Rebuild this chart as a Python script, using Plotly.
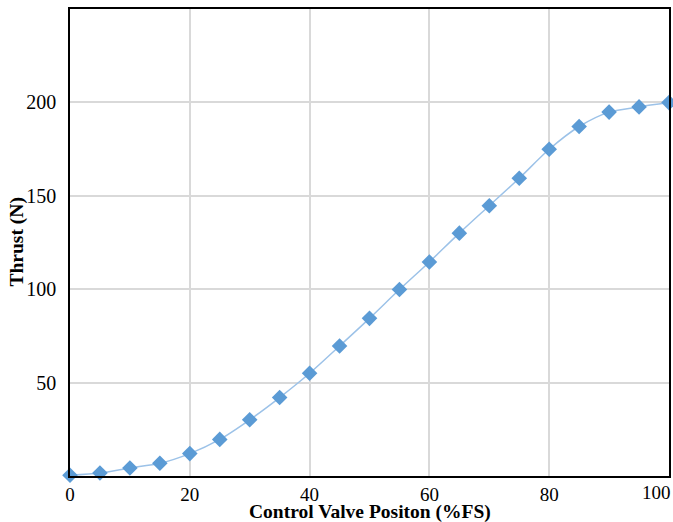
import plotly.graph_objects as go

valve_position = [0, 5, 10, 15, 20, 25, 30, 35, 40, 45, 50, 55, 60, 65, 70, 75, 80, 85, 90, 95, 100]
thrust = [0.4, 1.6, 4.3, 6.8, 12.0, 19.6, 30.1, 42.0, 55.0, 69.6, 84.4, 99.8, 114.6, 130.0, 144.7, 159.4, 174.9, 187.1, 194.8, 197.6, 199.9]

x_ticks = [0, 20, 40, 60, 80, 100]
y_ticks = [50, 100, 150, 200]

font_family = "Liberation Serif, Times New Roman, serif"

fig = go.Figure()
fig.add_trace(go.Scatter(
    x=valve_position, y=thrust,
    mode="lines+markers",
    line=dict(color="#9cc2e8", width=1.5, shape="spline", smoothing=0.8),
    marker=dict(symbol="diamond", size=12, color="#5b9bd5", line=dict(width=0)),
    cliponaxis=False,
    showlegend=False,
))

# last x tick label is drawn as an annotation so it stays inside the page (as in the original)
x_ticktext = [str(v) for v in x_ticks[:-1]] + [""]

fig.update_layout(
    width=673, height=522,
    margin=dict(l=70, r=4, t=9, b=46, autoexpand=False),
    paper_bgcolor="white", plot_bgcolor="white",
    font=dict(family=font_family, size=19, color="black"),
    xaxis=dict(
        range=[0, 100], tickvals=x_ticks, ticktext=x_ticktext,
        showgrid=True, gridcolor="#d9d9d9", gridwidth=1.5,
        showline=True, linecolor="black", linewidth=1.5, mirror=True,
        zeroline=False, ticks="", ticklabelstandoff=0, automargin=False,
        ticklabeloverflow="allow",
    ),
    yaxis=dict(
        range=[0, 250], tickvals=y_ticks, ticktext=[str(v) for v in y_ticks],
        showgrid=True, gridcolor="#d9d9d9", gridwidth=1.5,
        showline=True, linecolor="black", linewidth=1.5, mirror=True,
        zeroline=False, ticks="", ticklabelstandoff=8, automargin=False,
        tickfont=dict(size=20),
    ),
    annotations=[
        dict(text=str(x_ticks[-1]), xref="x", yref="paper",
             x=x_ticks[-1], y=0, xshift=4, yshift=-16, xanchor="right", yanchor="middle",
             showarrow=False, font=dict(size=19, family=font_family)),
        dict(text="<b>Control Valve Positon (%FS)</b>", xref="paper", yref="paper",
             x=0.5, y=0, yshift=-36, xanchor="center", yanchor="middle",
             showarrow=False, font=dict(size=19.5, family=font_family)),
        dict(text="<b>Thrust (N)</b>", xref="paper", yref="paper",
             x=0, y=0.5, xshift=-54, xanchor="center", yanchor="middle", textangle=-90,
             showarrow=False, font=dict(size=19.5, family=font_family)),
    ],
)

fig.write_html("out.html", config={"displayModeBar": False},
               post_script="document.body.style.margin='0';document.body.style.overflow='hidden';")
